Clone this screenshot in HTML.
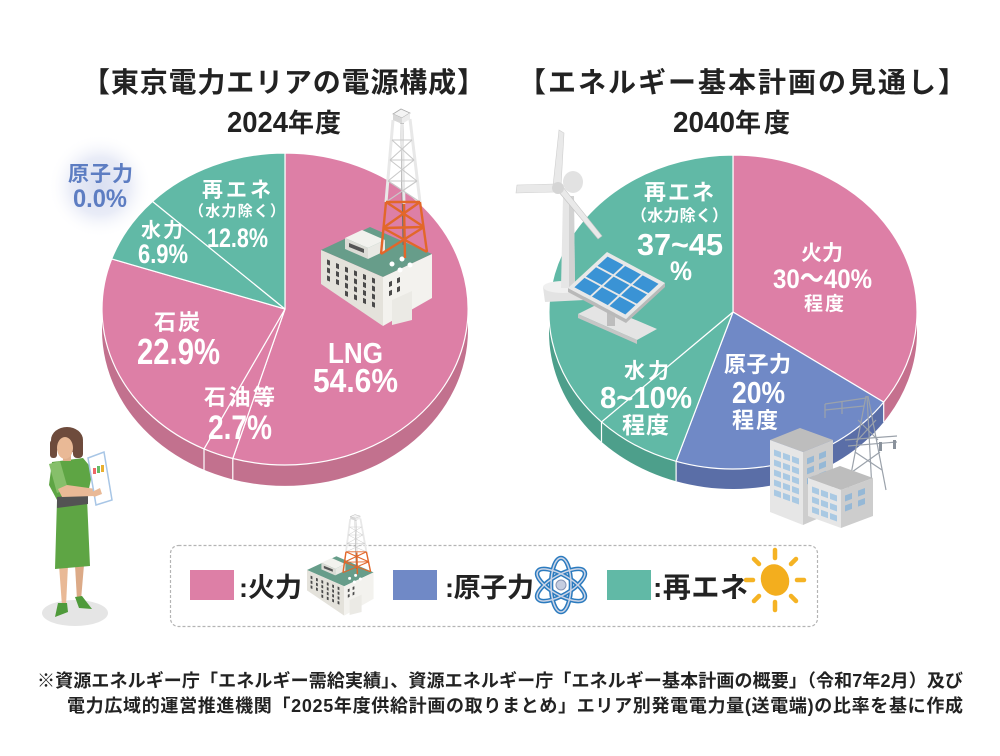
<!DOCTYPE html>
<html><head><meta charset="utf-8"><style>
html,body{margin:0;padding:0;background:#fff;}
svg{display:block;}
text{font-family:"Liberation Sans","Noto Sans CJK JP",sans-serif;font-weight:bold;}
</style></head><body>
<svg width="1000" height="756" viewBox="0 0 1000 756" xmlns="http://www.w3.org/2000/svg">
<defs>
<radialGradient id="glow" cx="0.5" cy="0.5" r="0.5">
<stop offset="0" stop-color="#d9dff1"/><stop offset="0.55" stop-color="#e9ecf7"/><stop offset="1" stop-color="#ffffff" stop-opacity="0"/>
</radialGradient>
<g id="tower">
 <line x1="402" y1="122" x2="404" y2="245" stroke="#6e6e6e" stroke-width="3"/>
 <g stroke="#e8e8e8" stroke-width="3" fill="none">
  <polyline points="393,120 386,202"/>
  <polyline points="410,119 420,202"/>
  <polyline points="402,124 404,204"/>
 </g>
 <g stroke="#c9c9c9" stroke-width="1.1" fill="none">
  <line x1="392" y1="140" x2="412" y2="140"/><line x1="390" y1="160" x2="414" y2="160"/>
  <line x1="388" y1="181" x2="417" y2="181"/>
  <line x1="392" y1="140" x2="414" y2="160"/><line x1="412" y1="140" x2="390" y2="160"/>
  <line x1="390" y1="160" x2="417" y2="181"/><line x1="414" y1="160" x2="388" y2="181"/>
  <line x1="388" y1="181" x2="420" y2="202"/><line x1="417" y1="181" x2="386" y2="202"/>
 </g>
 <g stroke="#e2672a" stroke-width="2.4" fill="none">
  <polyline points="386,202 381,254"/>
  <polyline points="420,202 427,252"/>
  <polyline points="404,204 405,258"/>
  <line x1="386" y1="202" x2="420" y2="202"/>
  <line x1="383" y1="228" x2="424" y2="227"/>
  <line x1="386" y1="202" x2="424" y2="227"/><line x1="420" y1="202" x2="383" y2="228"/>
  <line x1="383" y1="228" x2="427" y2="252"/><line x1="424" y1="227" x2="381" y2="254"/>
 </g>
 <polygon points="393,114 401,109 410,113 402,118" fill="#f4f4f4" stroke="#aaa" stroke-width="0.8"/>
 <polygon points="393,114 402,118 402,124 393,120" fill="#d8d8d8"/>
 <polygon points="402,118 410,113 410,119 402,124" fill="#ececec"/>
</g>
<g id="bldg">
 <polygon points="321,250 370,227 432,254 383,277" fill="#679d8a"/>
 <polygon points="321,250 383,277 383,326 321,284" fill="#e4e2db"/>
 <polygon points="383,277 432,254 432,298 383,326" fill="#f3f2ee"/>
 <polygon points="392,300 412,291 412,320 392,325" fill="#ebeae5"/>
 <g transform="matrix(1,0.403,0,1,321,250)" fill="#4a4a4a">
  <rect x="6" y="7" width="3" height="5"/><rect x="15" y="7" width="3" height="5"/><rect x="24" y="7" width="3" height="5"/><rect x="33" y="7" width="3" height="5"/><rect x="42" y="7" width="3" height="5"/><rect x="51" y="7" width="3" height="5"/>
  <rect x="6" y="15" width="3" height="5"/><rect x="15" y="15" width="3" height="5"/><rect x="24" y="15" width="3" height="5"/><rect x="33" y="15" width="3" height="5"/><rect x="42" y="15" width="3" height="5"/><rect x="51" y="15" width="3" height="5"/>
  <rect x="6" y="23" width="3" height="5"/><rect x="15" y="23" width="3" height="5"/><rect x="24" y="23" width="3" height="5"/><rect x="33" y="23" width="3" height="5"/><rect x="42" y="23" width="3" height="5"/><rect x="51" y="23" width="3" height="5"/>
  <rect x="24" y="31" width="3" height="5"/><rect x="33" y="31" width="3" height="5"/><rect x="42" y="31" width="3" height="5"/><rect x="51" y="31" width="3" height="5"/>
 </g>
 <g transform="matrix(1,-0.47,0,1,383,277)" fill="#4a4a4a">
  <rect x="6" y="8" width="3" height="5"/><rect x="14" y="8" width="3" height="5"/>
  <rect x="6" y="17" width="3" height="5"/><rect x="14" y="17" width="3" height="5"/>
 </g>
 <polygon points="345,238 362,230 385,240 368,248" fill="#f2f2ee"/>
 <polygon points="345,238 368,248 368,259 345,249" fill="#dcdcd6"/>
 <polygon points="368,248 385,240 385,251 368,259" fill="#e9e9e4"/>
 <polygon points="349,243 364,249 364,253 349,247" fill="#555"/>
 <circle cx="392" cy="264" r="2.5" fill="#fff"/><circle cx="402" cy="259" r="2.5" fill="#fff"/><circle cx="410" cy="265" r="2.5" fill="#fff"/><circle cx="400" cy="270" r="2.5" fill="#fff"/>
</g>
</defs>
<rect width="1000" height="756" fill="#fff"/>

<!-- Titles -->
<text x="82" y="92" font-size="28" textLength="403" fill="#222">【東京電力エリアの電源構成】</text>
<text x="518" y="92" font-size="28" textLength="448" fill="#222">【エネルギー基本計画の見通し】</text>
<text x="227" y="132" font-size="29" textLength="61" lengthAdjust="spacingAndGlyphs" fill="#222">2024</text>
<text x="288" y="132" font-size="26" textLength="53" fill="#222">年度</text>
<text x="673" y="132" font-size="29" textLength="62" lengthAdjust="spacingAndGlyphs" fill="#222">2040</text>
<text x="735" y="132" font-size="26" textLength="55" fill="#222">年度</text>

<!-- glow -->
<circle cx="100" cy="186" r="52" fill="url(#glow)"/>

<!-- LEFT PIE -->
<path d="M468,309 A183,156 0 0 1 102,309 L102,330 A183,156 0 0 0 468,330 Z" fill="#c2718e"/>
<line x1="232.8" y1="458.5" x2="232.8" y2="479.5" stroke="#fff" stroke-width="1.2"/>
<line x1="204" y1="448.9" x2="204" y2="469.9" stroke="#fff" stroke-width="1.2"/>
<g stroke="#fff" stroke-width="1.2" stroke-linejoin="round">
<path d="M285,309 L285,153 A183,156 0 1 1 232.8,458.5 Z" fill="#dd7fa6"/>
<path d="M285,309 L232.8,458.5 A183,156 0 0 1 204,448.9 Z" fill="#dd7fa6"/>
<path d="M285,309 L204,448.9 A183,156 0 0 1 111.7,258.9 Z" fill="#dd7fa6"/>
<path d="M285,309 L111.7,258.9 A183,156 0 0 1 152.5,201.4 Z" fill="#61b9a6"/>
<path d="M285,309 L152.5,201.4 A183,156 0 0 1 285,153 Z" fill="#61b9a6"/>
</g>

<!-- RIGHT PIE -->
<path d="M917,312 A184,157 0 0 1 883.7,402.1 L883.7,422.1 A184,157 0 0 0 917,332 Z" fill="#c5708e"/>
<path d="M883.7,402.1 A184,157 0 0 1 676.1,461.3 L676.1,481.3 A184,157 0 0 0 883.7,422.1 Z" fill="#5a6ea7"/>
<path d="M676.1,461.3 A184,157 0 0 1 549,312 L549,332 A184,157 0 0 0 676.1,481.3 Z" fill="#4d9f8b"/>
<g stroke="#fff" stroke-width="1.2">
<line x1="883.7" y1="402.1" x2="883.7" y2="422.1"/>
<line x1="676.1" y1="461.3" x2="676.1" y2="481.3"/>
<line x1="601.5" y1="421.9" x2="601.5" y2="441.9"/>
</g>
<g stroke="#fff" stroke-width="1.2" stroke-linejoin="round">
<path d="M733,312 L733,155 A184,157 0 0 1 883.7,402.1 Z" fill="#dd7fa6"/>
<path d="M733,312 L883.7,402.1 A184,157 0 0 1 676.1,461.3 Z" fill="#7089c6"/>
<path d="M733,312 L676.1,461.3 A184,157 0 0 1 601.5,421.9 Z" fill="#61b9a6"/>
<path d="M733,312 L601.5,421.9 A184,157 0 0 1 733,155 Z" fill="#61b9a6"/>
</g>

<!-- left building + tower -->
<use href="#bldg"/>
<use href="#tower"/>

<!-- windmill -->
<polygon points="543,287 583,287 585,300 545,302" fill="#e3e3e3"/>
<ellipse cx="563" cy="287" rx="20" ry="6" fill="#f0f0f0"/>
<polygon points="563,196 574,196 575,288 561,288" fill="#e6e6e6"/>
<polygon points="569,196 574,196 575,288 569,288" fill="#d2d2d2"/>
<ellipse cx="573" cy="182" rx="10" ry="11" fill="#e2e2e2"/>
<polygon points="553,186 559,130 564,133 561,186" fill="#e9e9e9" stroke="#cfcfcf" stroke-width="0.6"/>
<polygon points="555,184 517,185 516,193 555,192" fill="#e9e9e9" stroke="#cfcfcf" stroke-width="0.6"/>
<polygon points="558,191 598,239 602,236 563,187" fill="#e9e9e9" stroke="#c4c4c4" stroke-width="0.6"/>
<circle cx="558" cy="188" r="6" fill="#d5d5d5"/>
<!-- solar panel -->
<polygon points="578,314 598,304 657,329 637,340" fill="#e4e4e4"/>
<polygon points="578,314 637,340 637,344 578,318" fill="#c6c6c6"/>
<rect x="607" y="300" width="8" height="26" fill="#bdbdbd"/>
<polygon points="568,288 626,319 665,283 665,287 626,323 568,292" fill="#b9b9b9"/>
<g transform="matrix(0.8788,0.4697,-0.7358,0.6792,607,252)">
 <rect x="0" y="0" width="66" height="53" fill="#e8e8e8"/>
 <g fill="#3a93d5">
  <rect x="4" y="4" width="18" height="13.7"/><rect x="24" y="4" width="18" height="13.7"/><rect x="44" y="4" width="18" height="13.7"/>
  <rect x="4" y="19.7" width="18" height="13.7"/><rect x="24" y="19.7" width="18" height="13.7"/><rect x="44" y="19.7" width="18" height="13.7"/>
  <rect x="4" y="35.4" width="18" height="13.7"/><rect x="24" y="35.4" width="18" height="13.7"/><rect x="44" y="35.4" width="18" height="13.7"/>
 </g>
</g>

<!-- transmission tower -->
<g stroke="#9ba2ab" stroke-width="1.2" fill="none">
 <line x1="866" y1="396" x2="848" y2="490"/><line x1="868" y1="396" x2="886" y2="490"/>
 <line x1="867" y1="396" x2="872" y2="490"/>
 <line x1="825" y1="404" x2="866" y2="398"/><line x1="825" y1="410" x2="864" y2="406"/>
 <line x1="825" y1="404" x2="825" y2="418"/><line x1="842" y1="402" x2="842" y2="414"/>
 <line x1="845" y1="440" x2="897" y2="436"/><line x1="848" y1="446" x2="897" y2="442"/>
 <line x1="858" y1="420" x2="878" y2="440"/><line x1="876" y1="420" x2="856" y2="442"/>
 <line x1="855" y1="452" x2="882" y2="470"/><line x1="880" y1="452" x2="852" y2="472"/>
</g>
<rect x="879" y="442" width="3" height="9" fill="#8a929c"/><rect x="893" y="440" width="3" height="9" fill="#8a929c"/>
<!-- buildings -->
<polygon points="770,440 800,428 833,440 803,452" fill="#bdbdbd"/>
<polygon points="770,440 803,452 803,525 770,512" fill="#e6e6e6"/>
<polygon points="803,452 833,440 833,512 803,525" fill="#cdcdcd"/>
<g transform="matrix(1,0.3636,0,1,770,440)" fill="#a9c9e3">
 <rect x="4" y="8" width="7" height="6"/><rect x="13" y="8" width="7" height="6"/><rect x="22" y="8" width="7" height="6"/>
 <rect x="4" y="18" width="7" height="6"/><rect x="13" y="18" width="7" height="6"/><rect x="22" y="18" width="7" height="6"/>
 <rect x="4" y="28" width="7" height="6"/><rect x="13" y="28" width="7" height="6"/><rect x="22" y="28" width="7" height="6"/>
 <rect x="4" y="38" width="7" height="6"/><rect x="13" y="38" width="7" height="6"/><rect x="22" y="38" width="7" height="6"/>
 <rect x="4" y="48" width="7" height="6"/><rect x="13" y="48" width="7" height="6"/><rect x="22" y="48" width="7" height="6"/>
</g>
<g transform="matrix(1,-0.4,0,1,803,452)" fill="#95b8d6">
 <rect x="4" y="8" width="7" height="6"/><rect x="16" y="8" width="7" height="6"/>
 <rect x="4" y="18" width="7" height="6"/><rect x="16" y="18" width="7" height="6"/>
 <rect x="4" y="28" width="7" height="6"/><rect x="16" y="28" width="7" height="6"/>
</g>
<polygon points="808,478 840,466 873,478 841,490" fill="#bdbdbd"/>
<polygon points="808,478 841,490 841,528 808,516" fill="#e6e6e6"/>
<polygon points="841,490 873,478 873,516 841,528" fill="#cdcdcd"/>
<g transform="matrix(1,0.3636,0,1,808,478)" fill="#a9c9e3">
 <rect x="4" y="7" width="7" height="6"/><rect x="13" y="7" width="7" height="6"/><rect x="22" y="7" width="7" height="6"/>
 <rect x="4" y="17" width="7" height="6"/><rect x="13" y="17" width="7" height="6"/><rect x="22" y="17" width="7" height="6"/>
 <rect x="4" y="27" width="7" height="6"/><rect x="13" y="27" width="7" height="6"/><rect x="22" y="27" width="7" height="6"/>
</g>
<g transform="matrix(1,-0.375,0,1,841,490)" fill="#95b8d6">
 <rect x="4" y="7" width="7" height="6"/><rect x="17" y="7" width="7" height="6"/>
 <rect x="4" y="17" width="7" height="6"/><rect x="17" y="17" width="7" height="6"/>
</g>

<!-- LEFT labels -->
<text x="68" y="181" font-size="21" textLength="65" fill="#5d7dc2">原子力</text>
<text x="73" y="207" font-size="25" textLength="54" lengthAdjust="spacingAndGlyphs" fill="#5d7dc2">0.0%</text>
<g fill="#fff">
<text x="202" y="197" font-size="21" textLength="69">再エネ</text>
<text x="189" y="216" font-size="15" textLength="96">（水力除く）</text>
<text x="207" y="247" font-size="27" textLength="61" lengthAdjust="spacingAndGlyphs">12.8%</text>
<text x="141" y="237" font-size="20" textLength="42">水力</text>
<text x="138" y="263" font-size="27" textLength="50" lengthAdjust="spacingAndGlyphs">6.9%</text>
<text x="154" y="330" font-size="22" textLength="46">石炭</text>
<text x="137" y="364" font-size="36" textLength="83" lengthAdjust="spacingAndGlyphs">22.9%</text>
<text x="204" y="405" font-size="22" textLength="71">石油等</text>
<text x="208" y="439" font-size="34" textLength="64" lengthAdjust="spacingAndGlyphs">2.7%</text>
<text x="328" y="363" font-size="29" textLength="55" lengthAdjust="spacingAndGlyphs">LNG</text>
<text x="313" y="392" font-size="33" textLength="85" lengthAdjust="spacingAndGlyphs">54.6%</text>
</g>

<!-- RIGHT labels -->
<g fill="#fff">
<text x="644" y="200" font-size="22" textLength="70">再エネ</text>
<text x="631" y="221" font-size="16" textLength="97">（水力除く）</text>
<text x="637" y="255" font-size="31" textLength="86" lengthAdjust="spacingAndGlyphs">37~45</text>
<text x="670" y="280" font-size="27" textLength="22" lengthAdjust="spacingAndGlyphs">%</text>
<text x="801" y="260" font-size="21" textLength="42">火力</text>
<text x="773" y="288" font-size="27" textLength="99" lengthAdjust="spacingAndGlyphs">30～40%</text>
<text x="804" y="310" font-size="19" textLength="40">程度</text>
<text x="724" y="372" font-size="22" textLength="67">原子力</text>
<text x="732" y="403" font-size="31" textLength="53" lengthAdjust="spacingAndGlyphs">20%</text>
<text x="732" y="428" font-size="22" textLength="46">程度</text>
<text x="624" y="378" font-size="21" textLength="45">水力</text>
<text x="600" y="408" font-size="31" textLength="92" lengthAdjust="spacingAndGlyphs">8~10%</text>
<text x="622" y="433" font-size="23" textLength="47">程度</text>
</g>

<!-- woman -->
<ellipse cx="75" cy="613" rx="33" ry="13" fill="#e5e5e5"/>
<polygon points="59,565 68,565 66,606 62,606" fill="#e9b996"/>
<polygon points="75,565 84,565 81,600 77,600" fill="#dcaa87"/>
<polygon points="58,603 67,603 68,612 55,617" fill="#4f9a3b"/>
<polygon points="75,597 82,596 92,609 79,608" fill="#4f9a3b"/>
<path d="M52,462 L83,458 L93,470 L87,498 L90,566 L55,569 L57,500 L49,485 Z" fill="#5ea544"/>
<polygon points="57,497 88,494 88,504 57,508" fill="#535353"/>
<polygon points="49,464 60,461 68,489 57,493" fill="#86bf6a"/>
<polygon points="58,489 67,485 96,489 95,496 62,497" fill="#e9b996"/>
<rect x="63" y="451" width="8" height="10" fill="#dfae8c"/>
<ellipse cx="67" cy="440" rx="16" ry="13" fill="#6e4b3c"/>
<rect x="73" y="438" width="10" height="20" rx="4" fill="#6e4b3c"/>
<rect x="50" y="440" width="7" height="18" rx="3" fill="#6e4b3c"/>
<ellipse cx="65" cy="448" rx="8" ry="11" fill="#e9b996"/>
<polygon points="88,458 104,452 112,500 96,505" fill="#fff" stroke="#a8c6e6" stroke-width="1.5"/>
<rect x="93" y="468" width="3" height="6" fill="#e66"/><rect x="97" y="466" width="3" height="7" fill="#6b6"/><rect x="101" y="465" width="3" height="7" fill="#e9b030"/>
<polygon points="92,492 100,488 102,494 94,497" fill="#e9b996"/>

<!-- legend -->
<rect x="170.5" y="545.5" width="647" height="81" rx="8" fill="none" stroke="#b4b4b4" stroke-width="1.2" stroke-dasharray="3,2"/>
<rect x="190" y="570" width="44" height="30" fill="#dd7fa6"/>
<text x="239" y="597" font-size="27" textLength="63" fill="#222">:火力</text>
<use href="#bldg" transform="translate(114.4,420) scale(0.6)"/>
<use href="#tower" transform="translate(114.4,471) scale(0.6,0.4)"/>
<rect x="393" y="570" width="44" height="30" fill="#7089c6"/>
<text x="445" y="597" font-size="27" textLength="89" fill="#222">:原子力</text>
<g transform="translate(561,585)">
 <g fill="none" stroke="#2b7bbf" stroke-width="4.5">
  <ellipse rx="27" ry="10" transform="rotate(30)"/>
  <ellipse rx="27" ry="10" transform="rotate(150)"/>
  <ellipse rx="27" ry="10" transform="rotate(90)"/>
 </g>
 <g fill="none" stroke="#cdd5e6" stroke-width="1.5">
  <ellipse rx="27" ry="10" transform="rotate(30)"/>
  <ellipse rx="27" ry="10" transform="rotate(150)"/>
  <ellipse rx="27" ry="10" transform="rotate(90)"/>
 </g>
 <circle r="5" fill="#c5cde0" stroke="#8795b5" stroke-width="1"/>
</g>
<rect x="607" y="570" width="44" height="30" fill="#61b9a6"/>
<text x="653" y="597" font-size="28" textLength="95" fill="#222">:再エネ</text>
<g transform="translate(775,580)">
 <g stroke="#f5b324" stroke-width="4.5" stroke-linecap="round">
  <line x1="0" y1="-22" x2="0" y2="-30"/><line x1="0" y1="22" x2="0" y2="30"/>
  <line x1="-22" y1="0" x2="-29" y2="0"/><line x1="22" y1="0" x2="29" y2="0"/>
  <line x1="-16" y1="-16" x2="-21" y2="-21"/><line x1="16" y1="-16" x2="21" y2="-21"/>
  <line x1="-16" y1="16" x2="-21" y2="21"/><line x1="16" y1="16" x2="21" y2="21"/>
 </g>
 <ellipse rx="14" ry="16" transform="rotate(-20)" fill="#f3ae1e"/>
</g>

<!-- footer -->
<text x="37" y="687" font-size="18" textLength="926" fill="#222">※資源エネルギー庁「エネルギー需給実績」、資源エネルギー庁「エネルギー基本計画の概要」（令和7年2月）及び</text>
<text x="67" y="712" font-size="18" textLength="896" fill="#222">電力広域的運営推進機関「2025年度供給計画の取りまとめ」エリア別発電電力量(送電端)の比率を基に作成</text>
</svg>
</body></html>
